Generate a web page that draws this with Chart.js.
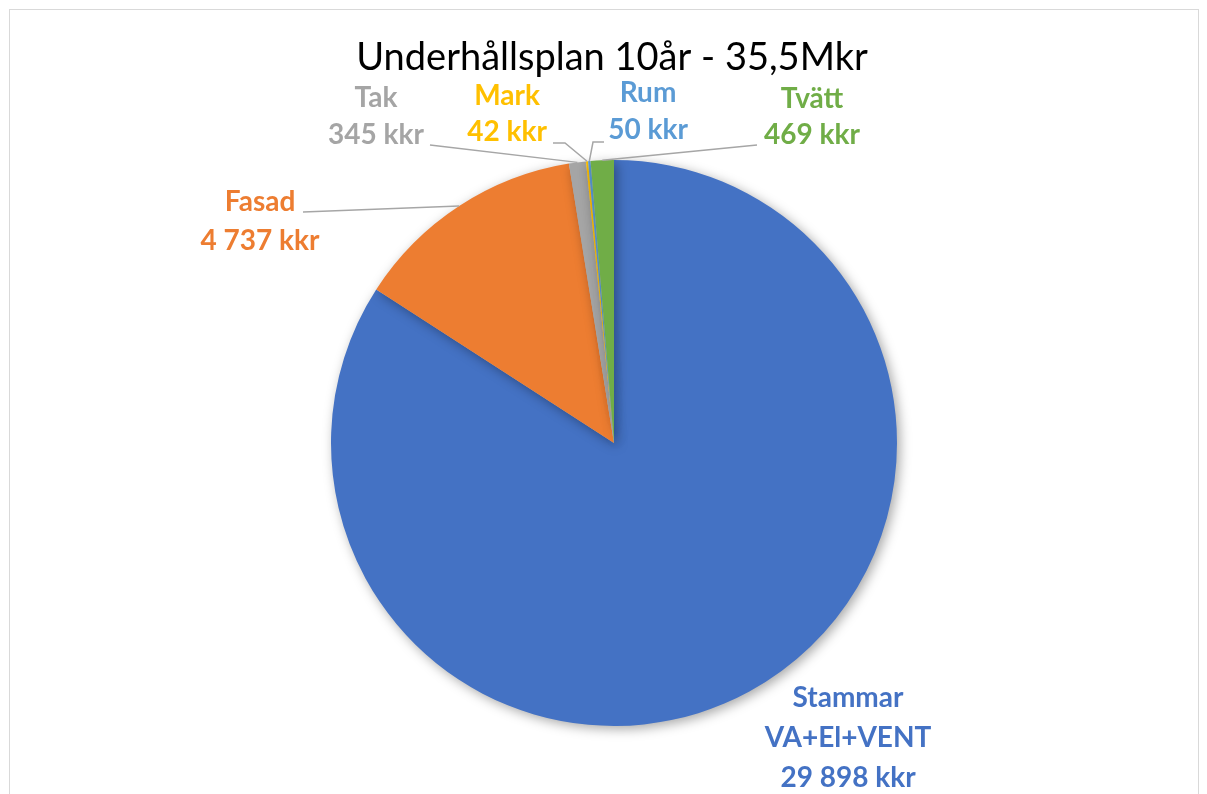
<!DOCTYPE html>
<html>
<head>
<meta charset="utf-8">
<script src="https://cdn.jsdelivr.net/npm/chart.js@4"></script>
<style>
  html, body { margin: 0; padding: 0; background: #fff; }
  #wrap { width: 1207px; height: 794px; position: relative; }
</style>
</head>
<body>
<div id="wrap"><canvas id="chart"></canvas></div>
<script>
// Data (kkr)
const categories = ['Stammar', 'Fasad', 'Tak', 'Mark', 'Rum', 'Tvätt'];
const subtitles = ['VA+El+VENT', '', '', '', '', ''];
const values = [29898, 4737, 345, 42, 50, 469];
const sliceColors = ['#4472C4', '#ED7D31', '#A5A5A5', '#FFC000', '#5B9BD5', '#70AD47'];
const titleText = 'Underhållsplan 10år - 35,5Mkr';

// label placement (text centre x, first line y, line gap) and leader start / elbow
const labelPos = [
    { x: 848, y: 698, gap: 40, line: null },
    { x: 260, y: 202, gap: 39, line: [[303, 212]] },
    { x: 376, y: 98,  gap: 37, line: [[430, 145]] },
    { x: 507, y: 96,  gap: 36, line: [[553, 143], [565, 143]] },
    { x: 648, y: 93,  gap: 37, line: [[604, 142], [593, 142]] },
    { x: 812, y: 99,  gap: 36, line: [[757, 145]] }
];

const fmt = v => v.toLocaleString('en-US').replace(/,/g, ' ') + ' kkr';

const shadowPlugin = {
    id: 'pieShadow',
    beforeDatasetDraw(chart) {
        const ctx = chart.ctx;
        ctx.save();
        ctx.shadowColor = 'rgba(0,0,0,0.35)';
        ctx.shadowBlur = 12;
        ctx.shadowOffsetX = 3;
        ctx.shadowOffsetY = 3;
    },
    afterDatasetDraw(chart) {
        chart.ctx.restore();
    }
};

const labelPlugin = {
    id: 'sliceLabels',
    beforeDraw(chart) {
        const ctx = chart.ctx;
        ctx.save();
        ctx.strokeStyle = '#d9d9d9';
        ctx.lineWidth = 1;
        ctx.strokeRect(9.5, 9.5, 1189, 820);
        ctx.fillStyle = '#000';
        ctx.font = '38px Lato';
        ctx.textAlign = 'center';
        ctx.textBaseline = 'middle';
        ctx.fillText(titleText, 612, 58);
        ctx.restore();
    },
    afterDatasetsDraw(chart) {
        const ctx = chart.ctx;
        const arcs = chart.getDatasetMeta(0).data;
        ctx.save();
        arcs.forEach((arc, i) => {
            const p = labelPos[i];
            if (p.line) {
                const { x, y, startAngle, endAngle, outerRadius } = arc.getProps(['x', 'y', 'startAngle', 'endAngle', 'outerRadius'], true);
                const mid = (startAngle + endAngle) / 2;
                const ex = x + Math.cos(mid) * outerRadius;
                const ey = y + Math.sin(mid) * outerRadius;
                ctx.strokeStyle = '#a6a6a6';
                ctx.lineWidth = 1.5;
                ctx.beginPath();
                ctx.moveTo(p.line[0][0], p.line[0][1]);
                p.line.slice(1).forEach(pt => ctx.lineTo(pt[0], pt[1]));
                ctx.lineTo(ex, ey);
                ctx.stroke();
            }
            const lines = [categories[i]];
            if (subtitles[i]) lines.push(subtitles[i]);
            lines.push(fmt(values[i]));
            ctx.fillStyle = sliceColors[i];
            ctx.font = 'bold 28px Lato';
            ctx.textAlign = 'center';
            ctx.textBaseline = 'middle';
            lines.forEach((t, k) => ctx.fillText(t, p.x, p.y + k * p.gap));
        });
        ctx.restore();
    }
};

new Chart(document.getElementById('chart'), {
    type: 'pie',
    data: {
        labels: categories,
        datasets: [{
            data: values,
            backgroundColor: sliceColors,
            borderWidth: 0
        }]
    },
    options: {
        responsive: true,
        maintainAspectRatio: false,
        animation: false,
        layout: { padding: { left: 331, right: 310, top: 160, bottom: 68 } },
        plugins: {
            legend: { display: false },
            tooltip: { enabled: false },
            title: { display: false }
        }
    },
    plugins: [shadowPlugin, labelPlugin]
});
</script>
</body>
</html>
